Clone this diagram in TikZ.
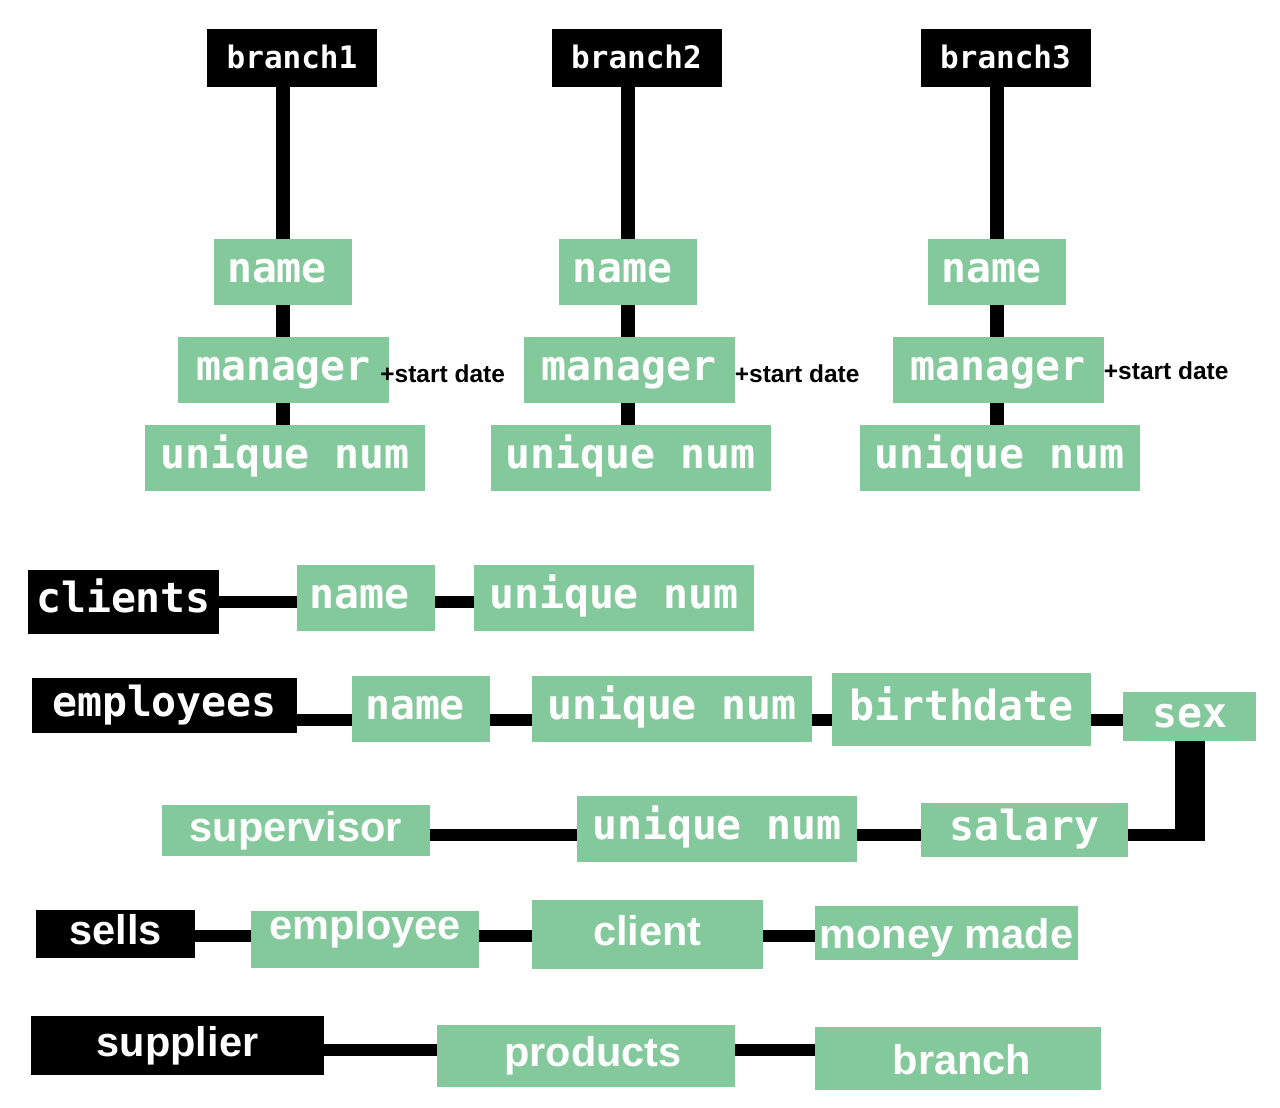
\documentclass[tikz,border=0pt]{standalone}
\usepackage{fontspec}
\setsansfont{Liberation Sans}
\setmonofont{DejaVu Sans Mono}
\usetikzlibrary{positioning,backgrounds}
\definecolor{attrgreen}{HTML}{84C99C}
\newcommand*{\monofnt}{\ttfamily\bfseries\fontsize{41.5}{48}\selectfont}
\newcommand*{\monosm}{\ttfamily\bfseries\fontsize{31}{36}\selectfont}
\newcommand*{\sansfnt}{\sffamily\bfseries\fontsize{41.5}{48}\selectfont}
\newcommand*{\startnote}{\sffamily\bfseries\fontsize{24.5}{28}\selectfont}

\begin{document}
\begin{tikzpicture}[x=1pt,y=-1pt,
  box/.style={inner sep=0pt,text height=31pt,text depth=10pt,text=white,font=\monofnt},
  ent/.style={box,fill=black},
  attr/.style={box,fill=attrgreen},
  sz/.style 2 args={minimum width=#1pt,minimum height=#2pt},
  high/.style={text height=25pt,text depth=25pt},
  low/.style={text depth=0pt},
  link/.style={line width=12pt},
  stem/.style={line width=14pt}]
\useasboundingbox (0,0) rectangle (1280,1108);
% Branches with their attributes
\foreach \i/\bx/\nx/\sx/\sy in {1/292/282.5/-9/374, 2/636.5/628/0/374, 3/1005.5/997/0/371} {
  \node[ent,sz={170}{58},font=\monosm] (br\i) at (\bx,58) {branch\i};
  \node[attr,sz={138}{66}] (n\i) at (\nx,272) {name\hspace*{11pt}};
  \node[attr,sz={211}{66}] (m\i) at (\nx+1,370) {manager};
  \node[attr,sz={280}{66}] (u\i) at (\nx+2.5,458) {unique num};
  \node[anchor=west,inner sep=0pt,font=\startnote] (sd\i)
    at ([xshift=\sx pt]m\i.east |- 0,\sy) {+start date};
}
% Clients
\node[ent,sz={191}{64}] (cl) at (123.5,602) {clients};
\node[attr,sz={138}{66}] (cn) at (366,598) {name\hspace*{13pt}};
\node[attr,sz={280}{66}] (cu) at (614,598) {unique num};
% Employees
\node[ent,sz={265}{55}] (em) at (164.5,705.5) {employees};
\node[attr,sz={138}{66}] (en) at (421,709) {name\hspace*{12pt}};
\node[attr,sz={280}{66}] (eu) at (672,709) {unique num};
\node[attr,sz={259}{73}] (eb) at (961.5,709.5) {birthdate};
\node[attr,sz={133}{49}] (es) at (1189.5,716.5) {sex};
\node[attr,sz={268}{51},font=\sansfnt] (sv) at (296,830.5) {supervisor};
\node[attr,sz={280}{66}] (eu2) at (717,829) {unique num};
\node[attr,sz={207}{54}] (sa) at (1024.5,830) {salary};
% Sells
\node[ent,sz={159}{48},font=\sansfnt] (se) at (115.5,934) {sells};
\node[attr,sz={228}{57},font=\sansfnt,high] (sp) at (365,939.5) {employee};
\node[attr,sz={231}{69},font=\sansfnt] (sc) at (647.5,934.5) {client};
\node[attr,sz={263}{54},font=\sansfnt,low] (sm) at (946.5,933) {money made};
% Supplier
\node[ent,sz={293}{59},font=\sansfnt] (sup) at (177.5,1045.5) {supplier};
\node[attr,sz={298}{62},font=\sansfnt] (pr) at (586,1056) {\hspace*{14pt}products};
\node[attr,sz={286}{63},font=\sansfnt,low] (bn) at (958,1058.5) {\hspace*{8pt}branch};
% Connectors behind the boxes
\begin{scope}[on background layer]
  \foreach \i in {1,2,3}
    \draw[stem] (br\i.south -| n\i) -- (u\i.north -| n\i);
  \draw[link] (cl.east) -- (cl.east -| cu.west);
  \draw[link] ([yshift=-14.5pt]em.east) -- ([yshift=-14.5pt]em.east -| es.west);
  \draw[line width=30pt] (es.south) -- ++(0,100);
  \draw[link] ([yshift=-5pt]sa.east) -- ++(76,0);
  \draw[link] ([yshift=-4.5pt]sv.east) -- ([yshift=-4.5pt]sv.east -| sa.west);
  \draw[link] ([yshift=-2pt]se.east) -- ([yshift=-2pt]se.east -| sm.west);
  \draw[link] ([yshift=-4.5pt]sup.east) -- ([yshift=-4.5pt]sup.east -| bn.west);
\end{scope}
\end{tikzpicture}
\end{document}
